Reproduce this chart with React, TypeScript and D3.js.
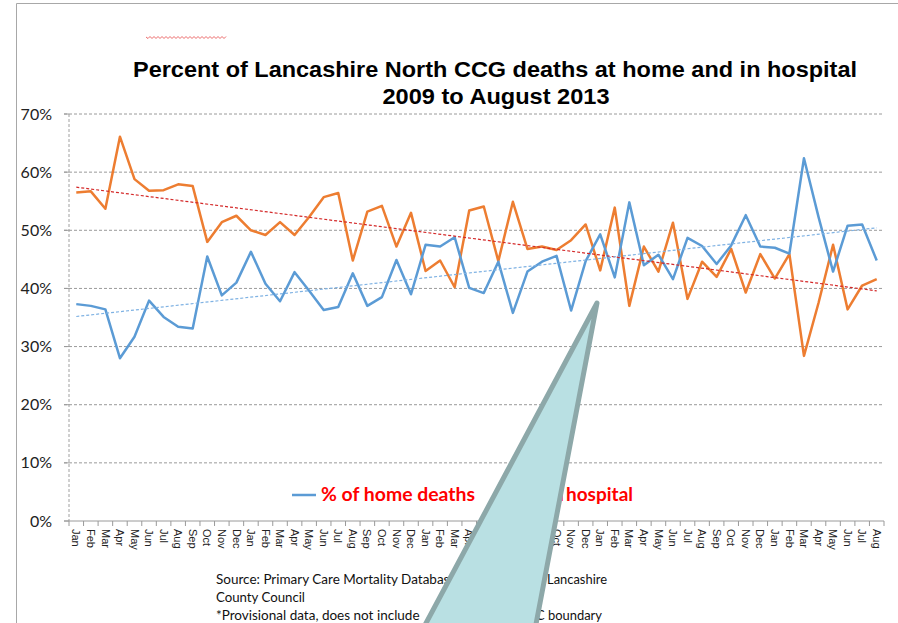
import React from 'react';
import * as d3 from 'd3';

const monthNames = ['Jan','Feb','Mar','Apr','May','Jun','Jul','Aug','Sep','Oct','Nov','Dec'];
// Jan 2009 .. Aug 2013 (56 months)
const monthLabels: string[] = [
  ...monthNames, ...monthNames, ...monthNames, ...monthNames,
  'Jan','Feb','Mar','Apr','May','Jun','Jul','Aug',
];

const homeDeaths = [
  37.3, 37.0, 36.4, 28.0, 31.7, 37.9, 35.1, 33.4, 33.1, 45.5, 38.8, 41.0,
  46.3, 40.8, 37.8, 42.8, 39.6, 36.3, 36.8, 42.6, 37.0, 38.5, 44.9, 39.0,
  47.5, 47.2, 48.8, 40.1, 39.2, 44.6, 35.8, 42.9, 44.6, 45.6, 36.2, 44.7,
  49.3, 41.9, 54.8, 44.0, 45.8, 41.6, 48.7, 47.3, 44.2, 47.4, 52.6, 47.2,
  47.0, 46.0, 62.4, 52.3, 42.9, 50.8, 51.0, 44.8,
];

const hospitalDeaths = [
  56.5, 56.7, 53.7, 66.1, 58.8, 56.8, 56.9, 57.9, 57.6, 48.0, 51.4, 52.5,
  50.0, 49.2, 51.4, 49.2, 52.3, 55.7, 56.4, 44.8, 53.2, 54.2, 47.2, 53.0,
  43.0, 44.8, 40.2, 53.4, 54.1, 44.7, 54.9, 46.8, 47.2, 46.6, 48.3, 51.0,
  43.1, 53.9, 37.0, 47.2, 42.9, 51.3, 38.2, 44.6, 42.0, 46.8, 39.3, 45.9,
  41.7, 45.9, 28.4, 37.5, 47.5, 36.4, 40.5, 41.6,
];

const yTicks = [0, 10, 20, 30, 40, 50, 60, 70];

const titleLines = [
  'Percent of Lancashire North CCG deaths at home and in hospital',
  '2009 to August 2013',
];

function linreg(vals: number[]) {
  const xs = vals.map((_, i) => i);
  const mx = d3.mean(xs) as number;
  const my = d3.mean(vals) as number;
  let num = 0, den = 0;
  xs.forEach((x, i) => { num += (x - mx) * (vals[i] - my); den += (x - mx) * (x - mx); });
  const b = num / den;
  const a = my - b * mx;
  return (x: number) => a + b * x;
}

export default function App() {
  const W = 898, H = 623;
  const x = d3.scaleBand<number>().domain(d3.range(monthLabels.length)).range([69, 884]).padding(0);
  const bw = x.bandwidth();
  const cx = (i: number) => (x(i) as number) + bw / 2;
  const y = d3.scaleLinear().domain([0, 70]).range([521, 114]);

  const line = d3.line<number>().x((_, i) => cx(i)).y((d) => y(d));

  const n = monthLabels.length;
  const homeFit = linreg(homeDeaths);
  const hospFit = linreg(hospitalDeaths);
  const trend = (f: (x: number) => number) =>
    d3.line<number>().x((i) => cx(i)).y((i) => y(f(i)))([0, n - 1]) as string;

  // red spell-check squiggle
  let sq = 'M146,37';
  for (let px = 146, k = 0; px < 225; px += 2, k++) {
    sq += ` L${px + 2},${k % 2 === 0 ? 38.5 : 36.5}`;
  }

  const callout = [[597, 303], [533, 640], [417, 640]];

  const calibri = 'Lato, "Open Sans", sans-serif';

  return (
    <svg width={W} height={H} style={{ position: 'absolute', left: 0, top: 0, background: '#fff' }}>
      <rect x={0} y={0} width={W} height={H} fill="#fff" />
      {/* frame */}
      <line x1={16.5} y1={3.5} x2={W} y2={3.5} stroke="#a8a8a8" strokeWidth={1} />
      <line x1={16.5} y1={3.5} x2={16.5} y2={H} stroke="#a8a8a8" strokeWidth={1} />

      <path d={sq} fill="none" stroke="#ec6a6a" strokeWidth={1} />

      {/* title */}
      <text x={495} y={77} textAnchor="middle" fontFamily='"Liberation Sans", Arial, sans-serif'
        fontWeight="bold" fontSize={22.5} textLength={724} lengthAdjust="spacingAndGlyphs" fill="#000">{titleLines[0]}</text>
      <text x={496} y={104} textAnchor="middle" fontFamily='"Liberation Sans", Arial, sans-serif'
        fontWeight="bold" fontSize={22.5} textLength={227} lengthAdjust="spacingAndGlyphs" fill="#000">{titleLines[1]}</text>

      {/* gridlines */}
      {yTicks.map((t) => (
        <g key={t}>
          {t > 0 && (
            <line x1={64} x2={884} y1={y(t)} y2={y(t)} stroke="#9a9a9a" strokeWidth={1} strokeDasharray="3,2" />
          )}
          <line x1={64} x2={69} y1={y(t)} y2={y(t)} stroke="#9a9a9a" strokeWidth={1} />
          <text x={52} y={y(t)} dy="0.35em" textAnchor="end" fontFamily={calibri} fontSize={16} fill="#222">{t}%</text>
        </g>
      ))}
      {/* y axis (dashed) */}
      <line x1={69} x2={69} y1={y(70)} y2={y(0)} stroke="#a0a0a0" strokeWidth={1} strokeDasharray="3,2" />
      {/* x axis */}
      <line x1={64} x2={884} y1={y(0)} y2={y(0)} stroke="#9a9a9a" strokeWidth={1} />
      {d3.range(n + 1).map((k) => {
        const px = k < n ? (x(k) as number) : 884;
        return <line key={k} x1={px} x2={px} y1={y(0)} y2={y(0) + 5} stroke="#9a9a9a" strokeWidth={1} />;
      })}
      {monthLabels.map((m, i) => (
        <text key={i} transform={`translate(${cx(i)},529) rotate(90)`} dy="0.35em"
          fontFamily='"Liberation Sans", Arial, sans-serif' fontSize={11} fill="#222">{m}</text>
      ))}

      {/* series */}
      <path d={line(hospitalDeaths) as string} fill="none" stroke="#ED7D31" strokeWidth={2.5} strokeLinejoin="round" />
      <path d={line(homeDeaths) as string} fill="none" stroke="#5B9BD5" strokeWidth={2.5} strokeLinejoin="round" />
      <path d={trend(hospFit)} fill="none" stroke="#d42a2a" strokeWidth={1.2} strokeDasharray="3,2" />
      <path d={trend(homeFit)} fill="none" stroke="#7fb2e3" strokeWidth={1.2} strokeDasharray="3,2" />

      {/* legend */}
      <line x1={292} x2={316} y1={495} y2={495} stroke="#5B9BD5" strokeWidth={2.5} />
      <text x={321} y={501} fontFamily={calibri} fontWeight="bold" fontSize={19} textLength={154} lengthAdjust="spacingAndGlyphs" fill="#ff0000">% of home deaths</text>
      <line x1={500} x2={524} y1={495} y2={495} stroke="#ED7D31" strokeWidth={2.5} />
      <text x={528} y={501} fontFamily={calibri} fontWeight="bold" fontSize={19} fill="#ff0000">% in</text>
      <text x={566} y={501} fontFamily={calibri} fontWeight="bold" fontSize={19} textLength={67} lengthAdjust="spacingAndGlyphs" fill="#ff0000">hospital</text>

      {/* source note */}
      <text x={216} y={584} fontFamily={calibri} fontSize={13.5} fill="#111">Source: Primary Care Mortality Database</text>
      <text x={547} y={584} fontFamily={calibri} fontSize={13.5} textLength={60} lengthAdjust="spacingAndGlyphs" fill="#111">Lancashire</text>
      <text x={216} y={602} fontFamily={calibri} fontSize={13.5} textLength={89} lengthAdjust="spacingAndGlyphs" fill="#111">County Council</text>
      <text x={216} y={620} fontFamily={calibri} fontSize={13.5} fill="#111">*Provisional data, does not include</text>
      <text x={536} y={620} fontFamily={calibri} fontSize={13.5} textLength={66} lengthAdjust="spacingAndGlyphs" fill="#111">C boundary</text>

      {/* callout wedge */}
      <polygon points={callout.map((p) => p.join(',')).join(' ')} fill="#b9e0e3" stroke="#8da8a9" strokeWidth={5} strokeLinejoin="round" />
    </svg>
  );
}
